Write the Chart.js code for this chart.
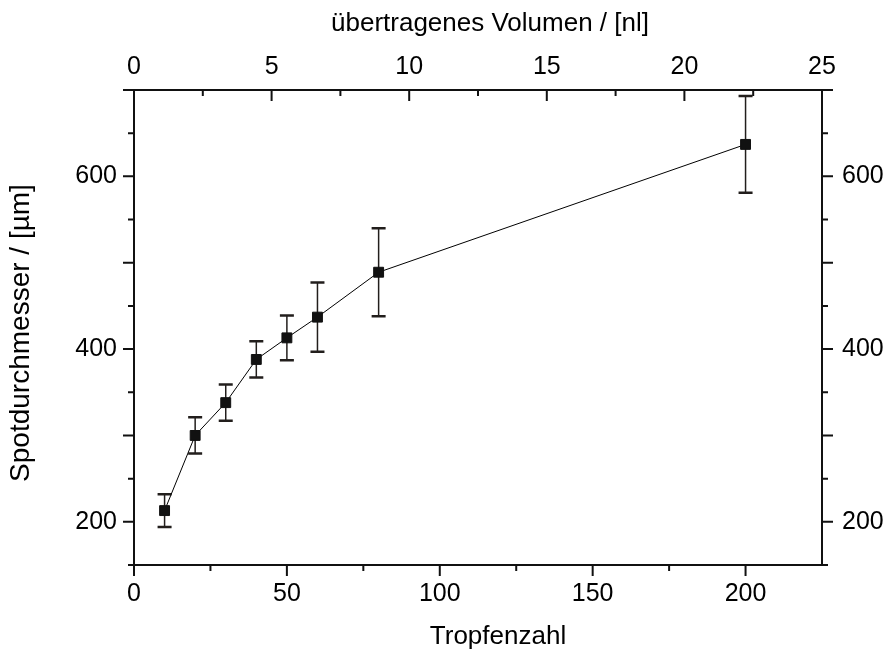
<!DOCTYPE html>
<html>
<head>
<meta charset="utf-8">
<script src="https://cdn.jsdelivr.net/npm/chart.js@4"></script>
<style>
  html, body { margin: 0; padding: 0; background: #fff; }
  #wrap { width: 886px; height: 652px; position: relative; }
</style>
</head>
<body>
<div id="wrap"><canvas id="spotChart"></canvas></div>
<script>
// Tropfenzahl vs. Spotdurchmesser (mit Fehlerbalken)
const drops = [10, 20, 30, 40, 50, 60, 80, 200];
const spotDiameter = [213, 300, 338, 388, 413, 437, 489, 637];
const spotError = [19, 21, 21, 21, 26, 40, 51, 56];

// Achsenbeschriftungen
const xTitle = "Tropfenzahl";
const x2Title = "übertragenes Volumen / [nl]";
const yTitle = "Spotdurchmesser / [µm]";

// Tick-Werte (Haupt- und Nebenstriche)
const xMajor = [0, 50, 100, 150, 200];
const xMinor = [25, 75, 125, 175];
const x2Major = [0, 5, 10, 15, 20, 25];
const x2Minor = [2.5, 7.5, 12.5, 17.5, 22.5];
const yMajor = [200, 300, 400, 500, 600, 700];
const yMinor = [150, 250, 350, 450, 550, 650];

Chart.defaults.font.family = '"Liberation Sans", Arial, Helvetica, sans-serif';
Chart.defaults.color = "#000";

const points = drops.map((d, i) => ({ x: d, y: spotDiameter[i] }));

const tickFont = { size: 25 };
const titleFont = '26px "Liberation Sans", Arial, sans-serif';
const yTitleFont = '28px "Liberation Sans", Arial, sans-serif';

function fixSize(prop, val) {
    return function (scale) { scale[prop] = val; };
}

const framePlugin = {
    id: "originFrame",
    beforeDatasetsDraw(chart) {
        // Fehlerbalken unter den Punkten zeichnen
        const ctx = chart.ctx;
        const xs = chart.scales.x, ys = chart.scales.y;
        ctx.save();
        ctx.strokeStyle = "#221e1c";
        drops.forEach((d, i) => {
            const px = xs.getPixelForValue(d);
            const top = ys.getPixelForValue(spotDiameter[i] + spotError[i]);
            const bot = ys.getPixelForValue(spotDiameter[i] - spotError[i]);
            ctx.lineWidth = 1.5;
            ctx.beginPath();
            ctx.moveTo(px, top);
            ctx.lineTo(px, bot);
            ctx.stroke();
            ctx.lineWidth = 2.5;
            ctx.beginPath();
            ctx.moveTo(px - 7, top); ctx.lineTo(px + 7, top);
            ctx.moveTo(px - 7, bot); ctx.lineTo(px + 7, bot);
            ctx.stroke();
        });
        ctx.restore();
    },
    afterDraw(chart) {
        const ctx = chart.ctx;
        const a = chart.chartArea;
        const s = chart.scales;
        ctx.save();
        ctx.strokeStyle = "#111";
        ctx.lineWidth = 2;
        ctx.strokeRect(a.left, a.top, a.right - a.left, a.bottom - a.top);

        const major = 11, minor = 6;
        ctx.beginPath();
        // unten, nach aussen
        xMajor.concat(xMinor).forEach(v => {
            const p = s.x.getPixelForValue(v);
            ctx.moveTo(p, a.bottom);
            ctx.lineTo(p, a.bottom + (xMajor.includes(v) ? major : minor));
        });
        // oben, nach innen
        x2Major.concat(x2Minor).forEach(v => {
            const p = s.x2.getPixelForValue(v);
            ctx.moveTo(p, a.top);
            ctx.lineTo(p, a.top + (x2Major.includes(v) ? major : minor));
        });
        // links und rechts, nach aussen
        yMajor.concat(yMinor).forEach(v => {
            const p = s.y.getPixelForValue(v);
            const len = yMajor.includes(v) ? major : minor;
            ctx.moveTo(a.left, p); ctx.lineTo(a.left - len, p);
            ctx.moveTo(a.right, p); ctx.lineTo(a.right + len, p);
        });
        ctx.stroke();

        // Achsentitel
        ctx.fillStyle = "#000";
        ctx.font = titleFont;
        ctx.textAlign = "center";
        ctx.textBaseline = "alphabetic";
        ctx.fillText(xTitle, 498, 644);
        ctx.fillText(x2Title, 490, 31);
        ctx.font = yTitleFont;
        ctx.translate(29, 333);
        ctx.rotate(-Math.PI / 2);
        ctx.fillText(yTitle, 0, 0);
        ctx.restore();
    }
};

new Chart(document.getElementById("spotChart"), {
    type: "scatter",
    data: {
        datasets: [{
            data: points,
            showLine: true,
            borderColor: "#000",
            borderWidth: 1,
            pointStyle: "rect",
            pointRadius: 7,
            pointHoverRadius: 7,
            pointBackgroundColor: "#111",
            pointBorderColor: "#111",
            pointBorderWidth: 1,
            tension: 0,
            xAxisID: "x",
            yAxisID: "y"
        }]
    },
    options: {
        responsive: true,
        maintainAspectRatio: false,
        animation: false,
        layout: { padding: 0 },
        plugins: {
            legend: { display: false },
            tooltip: { enabled: false }
        },
        scales: {
            x: {
                type: "linear", position: "bottom", min: 0, max: 225,
                grid: { display: false, drawTicks: false },
                border: { display: false },
                ticks: { stepSize: 50, includeBounds: false, autoSkip: false, maxRotation: 0, padding: 14, font: tickFont },
                afterFit: fixSize("height", 87)
            },
            x2: {
                type: "linear", position: "top", min: 0, max: 25,
                grid: { display: false, drawTicks: false },
                border: { display: false },
                ticks: { stepSize: 5, autoSkip: false, maxRotation: 0, padding: 8, font: tickFont },
                afterFit: fixSize("height", 90)
            },
            y: {
                type: "linear", position: "left", min: 150, max: 700,
                grid: { display: false, drawTicks: false },
                border: { display: false },
                ticks: { stepSize: 200, includeBounds: false, autoSkip: false, padding: 17, font: tickFont },
                afterFit: fixSize("width", 134)
            },
            y2: {
                type: "linear", position: "right", min: 150, max: 700,
                grid: { display: false, drawTicks: false },
                border: { display: false },
                ticks: { stepSize: 200, includeBounds: false, autoSkip: false, padding: 20, font: tickFont },
                afterFit: fixSize("width", 64)
            }
        }
    },
    plugins: [framePlugin]
});
</script>
</body>
</html>
